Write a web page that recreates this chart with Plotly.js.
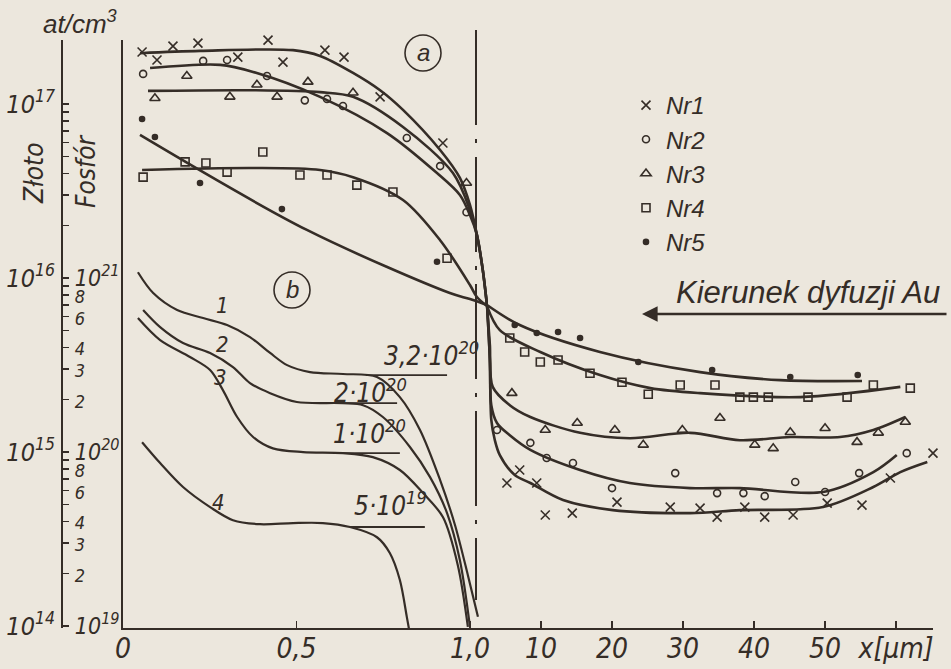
<!DOCTYPE html>
<html><head><meta charset="utf-8">
<script src="https://cdn.plot.ly/plotly-3.0.1.min.js"></script>
<style>html,body{margin:0;padding:0;background:#ece7dd;}#c{width:951px;height:669px;}</style>
</head><body><div id="c"></div>
<script>
// ---- data: part (a) gold concentration, at/cm3 ----
// left segment: x in 0..1.05 (expanded first micron), right segment: x in µm
const nr1_px = [0.055,0.098,0.144,0.216,0.331,0.418,0.461,0.582,0.637,0.741,0.922];
const nr1_py = [1.99e17,1.79e17,2.15e17,2.24e17,1.86e17,2.33e17,1.74e17,2.04e17,1.86e17,1.10e17,5.97e16];
const nr1_rx = [5.2,7.0,9.4,10.6,14.4,20.7,28.2,32.4,34.8,38.7,41.5,45.5,50.3,55.2,59.2,65.2];
const nr1_ry = [6.64e14,7.89e14,6.64e14,4.35e14,4.46e14,5.16e14,4.83e14,4.76e14,4.23e14,4.83e14,4.23e14,4.35e14,5.09e14,4.96e14,7.10e14,9.86e14];
const nr1_fx = [0.049,0.222,0.490,0.568,0.663,0.741,0.807,0.914,0.971,1.0,1.020,1.037,1.049];
const nr1_fy = [1.96e17,2.02e17,2.04e17,1.89e17,1.51e17,1.20e17,9.25e16,5.44e16,3.76e16,2.63e16,1.77e16,1.11e16,7.0e15];
const nr1_gx = [2.4,2.8,3.0,3.5,4.2,6.3,8.5,13.1,20.1,31.0,38.0,49.7,56.8,60.6,64.4];
const nr1_gy = [7.0e15,3.38e15,1.53e15,1.17e15,9.6e14,7.38e14,6.64e14,5.30e14,4.64e14,4.46e14,4.64e14,4.83e14,6.30e14,7.67e14,8.77e14];

const nr2_px = [0.058,0.231,0.300,0.415,0.524,0.588,0.634,0.818,0.914,0.99];
const nr2_py = [1.49e17,1.77e17,1.79e17,1.45e17,1.05e17,1.07e17,9.75e16,6.38e16,4.40e16,2.39e16];
const nr2_rx = [3.8,8.5,10.8,14.5,20.0,28.9,34.8,38.5,41.5,45.8,50.0,54.8,61.5];
const nr2_ry = [1.34e15,1.13e15,9.25e14,8.65e14,6.21e14,7.57e14,5.81e14,5.81e14,5.58e14,6.73e14,5.89e14,7.57e14,9.86e14];
const nr2_fx = [0.078,0.280,0.375,0.568,0.761,0.905,0.971,1.0,1.020,1.037,1.049];
const nr2_fy = [1.61e17,1.68e17,1.53e17,1.10e17,6.81e16,4.01e16,3.00e16,2.30e16,1.77e16,1.11e16,7.0e15];
const nr2_gx = [2.4,2.8,3.0,3.8,5.6,8.5,15.5,22.5,31.0,38.0,49.7,56.8,60.1];
const nr2_gy = [7.0e15,3.38e15,1.86e15,1.47e15,1.25e15,1.03e15,7.89e14,6.64e14,6.21e14,6.21e14,5.89e14,7.67e14,9.62e14];

const nr3_px = [0.092,0.184,0.308,0.386,0.444,0.533,0.663,0.99];
const nr3_py = [1.08e17,1.45e17,1.10e17,1.29e17,1.10e17,1.34e17,1.16e17,3.52e16];
const nr3_rx = [5.9,10.6,15.1,20.4,24.4,29.9,35.2,40.1,42.7,45.1,50.0,54.5,57.5,61.3];
const nr3_ry = [2.18e15,1.34e15,1.47e15,1.34e15,1.10e15,1.34e15,1.57e15,1.10e15,1.05e15,1.30e15,1.37e15,1.14e15,1.29e15,1.49e15];
const nr3_fx = [0.072,0.375,0.568,0.663,0.807,0.951,1.0,1.020,1.037,1.049];
const nr3_fy = [1.19e17,1.20e17,1.17e17,1.10e17,7.38e16,4.01e16,2.46e16,1.77e16,1.11e16,7.0e15];
const nr3_gx = [2.4,2.8,3.2,5.6,8.5,15.5,22.5,31.0,38.0,45.1,52.1,56.8,61.3];
const nr3_gy = [7.0e15,4.12e15,2.37e15,1.86e15,1.59e15,1.29e15,1.20e15,1.29e15,1.17e15,1.22e15,1.22e15,1.34e15,1.59e15];

const nr4_px = [0.058,0.179,0.239,0.300,0.403,0.510,0.588,0.674,0.778,0.934];
const nr4_py = [3.80e16,4.65e16,4.58e16,4.06e16,5.30e16,3.91e16,3.91e16,3.42e16,3.12e16,1.30e16];
const nr4_rx = [5.6,7.7,9.9,12.4,16.9,21.4,25.1,29.6,34.5,38.0,39.9,42.0,47.6,53.1,56.8,62.0];
const nr4_ry = [4.52e15,3.76e15,3.29e15,3.38e15,2.84e15,2.52e15,2.15e15,2.43e15,2.43e15,2.07e15,2.07e15,2.07e15,2.07e15,2.07e15,2.43e15,2.33e15];
const nr4_fx = [0.055,0.375,0.568,0.663,0.807,0.914,1.0,1.020,1.049];
const nr4_fy = [4.18e16,4.29e16,4.18e16,3.80e16,2.81e16,1.65e16,9.12e15,7.78e15,6.9e15];
const nr4_gx = [2.4,4.2,9.9,18.3,25.4,32.4,46.5,60.6];
const nr4_gy = [6.9e15,5.02e15,3.76e15,2.77e15,2.33e15,2.18e15,2.07e15,2.37e15];

const nr5_px = [0.055,0.092,0.222,0.458,0.905];
const nr5_py = [8.20e16,6.46e16,3.52e16,2.49e16,1.24e16];
const nr5_rx = [6.3,9.4,12.4,15.5,23.7,34.1,45.1,54.6];
const nr5_ry = [5.37e15,4.83e15,4.90e15,4.52e15,3.29e15,2.96e15,2.70e15,2.77e15];
const nr5_fx = [0.049,0.530,0.942,1.0,1.049];
const nr5_fy = [6.64e16,1.89e16,8.20e15,7.57e15,7.0e15];
const nr5_gx = [2.4,7.0,18.3,32.4,43.7,55.2];
const nr5_gy = [7.0e15,5.37e15,3.76e15,2.88e15,2.59e15,2.56e15];

// ---- data: part (b) phosphorus profiles, at/cm3 ----
const b1_x = [0.043,0.087,0.156,0.231,0.300,0.366,0.424,0.473,0.539,0.634,0.732,0.798,0.856,0.914,0.957,0.994,1.023];
const b1_y = [1.08e21,8.20e20,6.55e20,5.89e20,5.37e20,4.58e20,3.71e20,3.16e20,2.88e20,2.81e20,2.70e20,2.07e20,1.34e20,6.90e19,3.80e19,1.96e19,1.13e19];
const b2_x = [0.058,0.107,0.173,0.251,0.317,0.366,0.424,0.501,0.634,0.692,0.749,0.827,0.885,0.934,0.971,1.0];
const b2_y = [6.55e20,5.22e20,4.23e20,3.71e20,3.08e20,2.49e20,2.18e20,1.94e20,1.91e20,1.86e20,1.59e20,1.07e20,7.18e19,4.46e19,2.39e19,9.9e18];
const b3_x = [0.043,0.107,0.193,0.251,0.288,0.329,0.375,0.432,0.519,0.634,0.720,0.798,0.865,0.922,0.965,0.994];
const b3_y = [5.89e20,4.40e20,3.52e20,2.96e20,2.27e20,1.59e20,1.22e20,1.05e20,1.00e20,9.86e19,9.35e19,7.89e19,5.81e19,4.23e19,2.24e19,9.9e18];
const b4_x = [0.055,0.107,0.173,0.251,0.317,0.395,0.490,0.576,0.654,0.732,0.769,0.798,0.818,0.824];
const b4_y = [1.14e20,8.65e19,6.30e19,4.83e19,4.06e19,3.85e19,3.91e19,3.91e19,3.71e19,3.24e19,2.63e19,1.84e19,1.13e19,9.7e18];
const bRefX = [[0.70,0.934],[0.634,0.790],[0.634,0.798],[0.654,0.870]];
const bRefY = [2.77e20,1.91e20,9.86e19,3.71e19];
const bRefLabels = ['3,2·10<sup>20</sup>','2·10<sup>20</sup>','1·10<sup>20</sup>','5·10<sup>19</sup>'];
const bCurveLabels = ['1','2','3','4'];

// ---- tick labels ----
const xLeftTicks = [0, 0.5, 1.0];
const xLeftText = ['0', '0,5', '1,0'];
const xRightTicks = [10, 20, 30, 40, 50, 60];
const xRightText = ['10', '20', '30', '40', '50', 'x[µm]'];
const goldTicks = [1e14, 1e15, 1e16, 1e17];
const goldText = ['10<sup>14</sup>', '10<sup>15</sup>', '10<sup>16</sup>', '10<sup>17</sup>'];
const phosDecades = [19, 20, 21];
const phosLabelledDecades = [19, 20];
const phosMinorText = ['', '2', '3', '4', '', '6', '', '8', ''];
const seriesNames = ['Nr1', 'Nr2', 'Nr3', 'Nr4', 'Nr5'];

// ---- styling ----
const INK = '#352d27';
const BG = '#ece7dd';
const NARROW = "'Liberation Sans Narrow', 'DejaVu Sans Condensed', sans-serif";
const WIDE = "'Liberation Sans', 'DejaVu Sans', sans-serif";
const W = 951, H = 669, ML = 20, MR = 18, MT = 40, MB = 41;
const PW = W - ML - MR, PH = H - MT - MB;
const PX = p => (p - ML) / PW;
const PY = p => 1 - (p - MT) / PH;

const phosVals = [], phosText = [];
phosDecades.forEach(d => {
  for (let m = 1; m <= 9; m++) {
    phosVals.push(m * Math.pow(10, d));
    const minor = phosLabelledDecades.includes(d) ? phosMinorText[m - 1] : '';
    phosText.push(m === 1 ? '10<sup>' + d + '</sup>' : (minor ? '<span style="font-size:18px">' + minor + '</span>' : ' '));
  }
});
phosVals.push(1e22); phosText.push(' ');

const symbols = ['x-thin-open', 'circle-open', 'triangle-up-open', 'square-open', 'circle'];
const sizes = [9, 7, 9, 8, 5];
const pts = [
  [nr1_px, nr1_py, nr1_rx, nr1_ry, nr1_fx, nr1_fy, nr1_gx, nr1_gy],
  [nr2_px, nr2_py, nr2_rx, nr2_ry, nr2_fx, nr2_fy, nr2_gx, nr2_gy],
  [nr3_px, nr3_py, nr3_rx, nr3_ry, nr3_fx, nr3_fy, nr3_gx, nr3_gy],
  [nr4_px, nr4_py, nr4_rx, nr4_ry, nr4_fx, nr4_fy, nr4_gx, nr4_gy],
  [nr5_px, nr5_py, nr5_rx, nr5_ry, nr5_fx, nr5_fy, nr5_gx, nr5_gy]
];

const traces = [];
const curveLine = {color: INK, width: 2.6, shape: 'spline', smoothing: 0.9};
pts.forEach((s, i) => {
  traces.push({x: s[4], y: s[5], xaxis: 'x', yaxis: 'y', mode: 'lines', line: curveLine, showlegend: false, hoverinfo: 'skip'});
  traces.push({x: s[6], y: s[7], xaxis: 'x2', yaxis: 'y', mode: 'lines', line: curveLine, showlegend: false, hoverinfo: 'skip'});
});
pts.forEach((s, i) => {
  const mk = {symbol: symbols[i], size: sizes[i], color: INK, line: {color: INK, width: 1.6}};
  traces.push({x: s[0], y: s[1], xaxis: 'x', yaxis: 'y', mode: 'markers', marker: mk, name: seriesNames[i], cliponaxis: false});
  traces.push({x: s[2], y: s[3], xaxis: 'x2', yaxis: 'y', mode: 'markers', marker: mk, name: seriesNames[i], showlegend: false, cliponaxis: false});
});
[[b1_x, b1_y], [b2_x, b2_y], [b3_x, b3_y], [b4_x, b4_y]].forEach(c => {
  traces.push({x: c[0], y: c[1], xaxis: 'x', yaxis: 'y2', mode: 'lines', line: {color: INK, width: 2.2, shape: 'spline', smoothing: 0.9}, showlegend: false, hoverinfo: 'skip'});
});
bRefX.forEach((rx, i) => {
  traces.push({x: rx, y: [bRefY[i], bRefY[i]], xaxis: 'x', yaxis: 'y2', mode: 'lines', line: {color: INK, width: 1.8}, showlegend: false, hoverinfo: 'skip'});
});

const tfont = {family: NARROW, size: 28, color: INK, style: 'italic'};
const annotations = [];
const ann = (text, x, y, size, opts) => annotations.push(Object.assign({text: text, xref: 'paper', yref: 'paper', x: PX(x), y: PY(y), xanchor: 'center', yanchor: 'middle', showarrow: false, font: {family: NARROW, size: size, color: INK, style: 'italic'}}, opts || {}));

// axis words
ann('at/cm<sup>3</sup>', 80, 22, 26, {font: {family: WIDE, size: 26, color: INK, style: 'italic'}});
ann('Złoto', 34, 173, 26, {textangle: -90});
ann('Fosfór', 86, 172, 26, {textangle: -90});
// circled labels
ann('a', 423, 52, 24, {font: {family: WIDE, size: 24, color: INK, style: 'italic'}});
ann('b', 292, 289, 24, {font: {family: WIDE, size: 24, color: INK, style: 'italic'}});
// b-curve numbers and plateau values
const bLabPos = [[222, 306], [222, 344], [220, 377], [218, 502]];
bCurveLabels.forEach((t, i) => ann(t, bLabPos[i][0], bLabPos[i][1], 22));
const bRefPos = [[382, 354], [332, 391], [331, 432], [352, 504]];
bRefLabels.forEach((t, i) => ann(t, bRefPos[i][0], bRefPos[i][1], 26, {xanchor: 'left'}));
// diffusion direction
ann('Kierunek dyfuzji Au', 808, 292, 31, {font: {family: WIDE, size: 31, color: INK, style: 'italic'}});
annotations.push({xref: 'paper', yref: 'paper', x: PX(642), y: PY(314), ax: 306, ay: 0, text: '', showarrow: true, arrowhead: 2, arrowsize: 1.3, arrowwidth: 2.4, arrowcolor: INK});

const shapes = [
  {type: 'circle', xref: 'paper', yref: 'paper', x0: PX(405), x1: PX(441), y0: PY(35), y1: PY(71), line: {color: INK, width: 1.6}},
  {type: 'circle', xref: 'paper', yref: 'paper', x0: PX(274), x1: PX(310), y0: PY(272), y1: PY(308), line: {color: INK, width: 1.6}},
  {type: 'line', xref: 'paper', yref: 'paper', x0: PX(476), x1: PX(476), y0: PY(30), y1: PY(600), line: {color: INK, width: 2, dash: '95px,14px,4px,14px'}}
];

const layout = {
  width: W, height: H,
  margin: {l: ML, r: MR, t: MT, b: MB, pad: 0},
  paper_bgcolor: BG, plot_bgcolor: 'rgba(0,0,0,0)',
  font: {family: NARROW, color: INK},
  showlegend: true,
  legend: {x: PX(626), y: PY(83), xanchor: 'left', yanchor: 'top', bgcolor: 'rgba(0,0,0,0)', font: {family: WIDE, size: 24, color: INK, style: 'italic'}, tracegroupgap: 0, itemsizing: 'trace'},
  xaxis: {domain: [PX(123), PX(488)], range: [0, 1.052], anchor: 'y', showline: true, linecolor: INK, linewidth: 2.4, ticks: 'inside', ticklen: 7, tickwidth: 1.6, tickcolor: INK, tickvals: xLeftTicks, ticktext: xLeftText, tickfont: tfont, showgrid: false, zeroline: false, ticklabelstandoff: -6},
  xaxis2: {domain: [PX(470), 1], range: [0, 65.2], anchor: 'y', showline: true, linecolor: INK, linewidth: 2.4, ticks: 'inside', ticklen: 7, tickwidth: 1.6, tickcolor: INK, tickvals: xRightTicks, ticktext: xRightText, tickfont: tfont, showgrid: false, zeroline: false, ticklabelstandoff: -6},
  yaxis: {type: 'log', range: [13.989, 17.368], anchor: 'x', showline: true, linecolor: INK, linewidth: 2.4, ticks: '', showticklabels: false, showgrid: false, zeroline: false},
  yaxis2: {type: 'log', range: [18.989, 22.368], overlaying: 'y', anchor: 'free', position: PX(62), side: 'right', showline: true, linecolor: INK, linewidth: 2.2, ticks: 'outside', ticklen: 6, tickwidth: 1.5, tickcolor: INK, tickvals: phosVals, ticktext: phosText, tickfont: {family: NARROW, size: 23, color: INK, style: 'italic'}, showgrid: false, zeroline: false, ticklabelstandoff: 1},
  yaxis3: {type: 'log', range: [13.989, 17.368], overlaying: 'y', anchor: 'free', position: PX(62), side: 'left', showline: false, ticks: '', tickvals: goldTicks, ticktext: goldText, tickfont: {family: NARROW, size: 25, color: INK, style: 'italic'}, showgrid: false, zeroline: false, ticklabelstandoff: 7},
  annotations: annotations,
  shapes: shapes
};
// invisible helper point so that yaxis3 is drawn
traces.push({x: [0.5], y: [1e15], xaxis: 'x', yaxis: 'y3', mode: 'markers', marker: {opacity: 0}, showlegend: false, hoverinfo: 'skip'});

Plotly.newPlot('c', traces, layout, {staticPlot: true, displayModeBar: false});
</script>
</body></html>
